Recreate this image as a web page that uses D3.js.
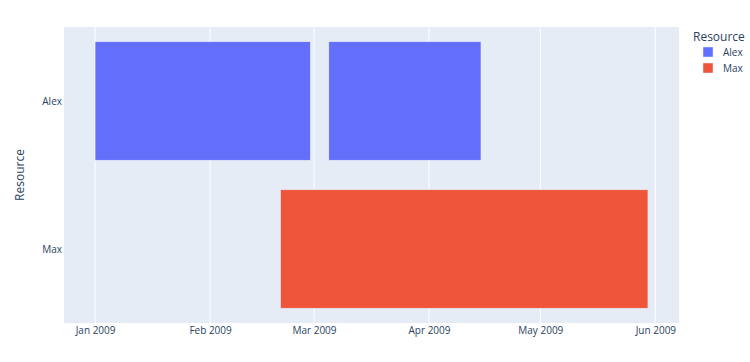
<!DOCTYPE html>
<html>
<head>
<meta charset="utf-8">
<script src="https://cdn.jsdelivr.net/npm/d3@7"></script>
<style>
	body { margin: 0; background: #fff; }
	text { font-family: "Open Sans", verdana, arial, sans-serif; fill: #2a3f5f; }
</style>
</head>
<body>
<div id="chart"></div>
<script>
// Gantt-style timeline: one bar per task, grouped by resource

const RESOURCES = ['Alex', 'Max'];
const TASK_RESOURCE = ['Alex', 'Alex', 'Max'];
const TASK_START = ['2009-01-01', '2009-03-05', '2009-02-20'];
const TASK_FINISH = ['2009-02-28', '2009-04-15', '2009-05-30'];
const X_TICKS = ['2009-01-01', '2009-02-01', '2009-03-01', '2009-04-01', '2009-05-01', '2009-06-01'];
const X_RANGE = ['2008-12-23T15:00', '2009-06-07T09:00'];
const COLORS = ['#636efa', '#EF553B'];

(function () {
	const W = 750, H = 362;
	const m = { l: 64, r: 71, t: 27, b: 39 };
	const pw = W - m.l - m.r, ph = H - m.t - m.b;
	const parse = d3.isoParse;

	const tasks = TASK_RESOURCE.map((r, i) => ({ r, s: parse(TASK_START[i]), f: parse(TASK_FINISH[i]) }));

	const x = d3.scaleTime().domain(X_RANGE.map(parse)).range([0, pw]);
	const y = d3.scaleBand().domain(RESOURCES).range([0, ph]).paddingInner(0.2).paddingOuter(0.1);
	const color = d3.scaleOrdinal().domain(RESOURCES).range(COLORS);

	const svg = d3.select('#chart').append('svg').attr('width', W).attr('height', H);
	const g = svg.append('g').attr('transform', `translate(${m.l},${m.t})`);

	g.append('rect').attr('width', pw).attr('height', ph).attr('fill', '#E5ECF6');

	const ticks = X_TICKS.map(parse);
	g.selectAll('.grid').data(ticks).enter().append('line')
		.attr('x1', d => x(d)).attr('x2', d => x(d))
		.attr('y1', 0).attr('y2', ph)
		.attr('stroke', '#fff').attr('stroke-width', 1);

	g.selectAll('.bar').data(tasks).enter().append('rect')
		.attr('x', d => x(d.s))
		.attr('width', d => x(d.f) - x(d.s))
		.attr('y', d => y(d.r))
		.attr('height', y.bandwidth())
		.attr('fill', d => color(d.r))
		.attr('stroke', '#E5ECF6').attr('stroke-width', 0.5);

	// x axis
	const xAxis = g.append('g').attr('transform', `translate(0,${ph})`)
		.call(d3.axisBottom(x).tickValues(ticks).tickSize(0).tickPadding(4).tickFormat(d3.timeFormat('%b %Y')));
	xAxis.select('.domain').remove();
	xAxis.selectAll('text').style('font-size', '10px').attr('fill', '#2a3f5f');

	// y axis
	const yAxis = g.append('g')
		.call(d3.axisLeft(y).tickSize(0).tickPadding(2));
	yAxis.select('.domain').remove();
	yAxis.selectAll('text').style('font-size', '10px').attr('fill', '#2a3f5f').attr('dy', '0.35em');

	svg.append('text')
		.attr('transform', `translate(24,${m.t + ph / 2}) rotate(-90)`)
		.attr('text-anchor', 'middle')
		.style('font-size', '12px')
		.text('Resource');

	// legend
	const legend = svg.append('g').attr('transform', `translate(692,0)`);
	legend.append('text').attr('x', 1).attr('y', 41).style('font-size', '12px').text('Resource');
	RESOURCES.forEach((r, i) => {
		const ly = 52 + i * 16;
		legend.append('rect').attr('x', 11).attr('y', ly - 5).attr('width', 10).attr('height', 10)
			.attr('fill', color(r)).attr('stroke', '#E5ECF6').attr('stroke-width', 0.5);
		legend.append('text').attr('x', 31).attr('y', ly + 4).style('font-size', '10px').text(r);
	});
})();
</script>
</body>
</html>
